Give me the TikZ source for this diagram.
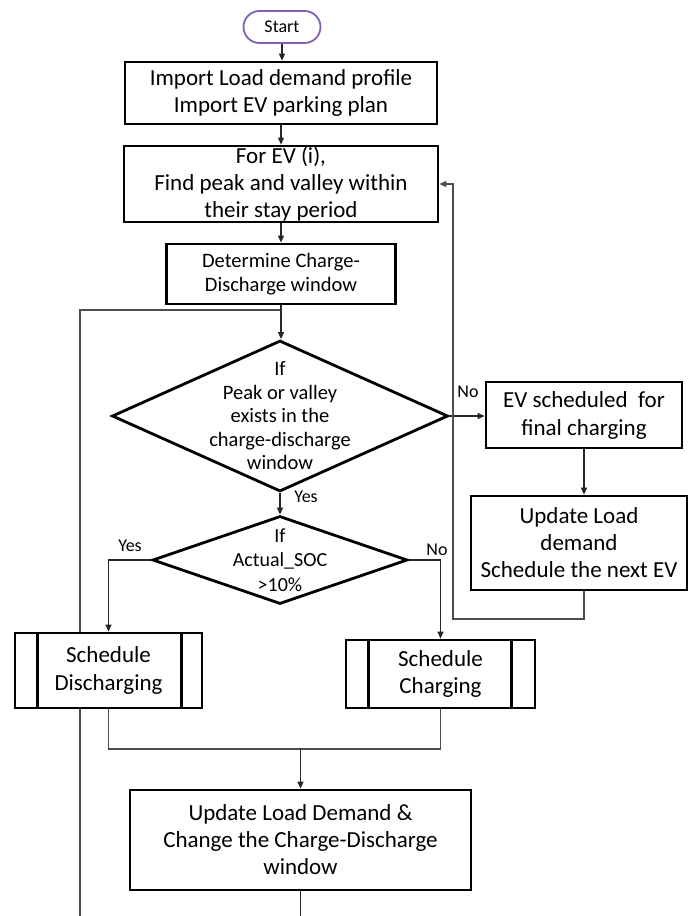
\documentclass[tikz,border=0pt]{standalone}
\usepackage{fontspec}
\setmainfont{Carlito}
\usetikzlibrary{arrows.meta,shapes.geometric,calc}
\definecolor{startpurple}{RGB}{128,96,180}
\pgfdeclarelayer{background}
\pgfsetlayers{background,main}
\begin{document}
\begin{tikzpicture}[x=1pt,y=-1pt,
  box/.style={draw,line width=2.8pt,rectangle,inner sep=0pt,align=center,fill=white,
    font=\fontsize{23}{27}\selectfont},
  dia/.style={draw,line width=2.8pt,diamond,inner sep=0pt,fill=white},
  dtext/.style={align=center,inner sep=0pt,font=\fontsize{20.5}{23.5}\selectfont},
  lbl/.style={inner sep=0pt,font=\fontsize{18}{20}\selectfont},
  conn/.style={draw=black!85,line width=1.3pt},
  arr/.style={conn,-{Triangle[length=7pt,width=6pt]}},
  loopl/.style={draw=black!70,line width=1.2pt}
]
\useasboundingbox (0,0) rectangle (689,916);

% nodes
\node[draw=startpurple,line width=1.8pt,rounded corners=16pt,minimum width=77pt,minimum height=32pt,inner sep=0pt,font=\fontsize{18}{20}\selectfont] (start) at (282,27) {Start};
\node[box,minimum width=312pt,minimum height=62pt] (b1) at (281,93) {Import Load demand profile\\Import EV parking plan};
\node[box,minimum width=314pt,minimum height=76pt] (b2) at (281,184) {For EV (i),\\Find peak and valley within\\their stay period};
\node[box,minimum width=229pt,minimum height=60pt,font=\fontsize{20.5}{24}\selectfont] (b3) at (281,274) {Determine Charge-\\Discharge window};
\node[dia,minimum width=336pt,minimum height=151pt] (d1) at (280,416) {};
\node[dtext] (d1t) at (d1.center) {If\\Peak or valley\\exists in the\\charge-discharge\\window};
\node[dia,minimum width=255pt,minimum height=88pt] (d2) at (280,560) {};
\node[dtext,font=\fontsize{20}{24.5}\selectfont] (d2t) at (d2.center) {If\\Actual\_SOC\\>10\%};
\node[box,minimum width=196pt,minimum height=66pt,font=\fontsize{23}{28}\selectfont] (b4) at (584,415) {EV scheduled\ \ for\\final charging};
\node[box,minimum width=216pt,minimum height=94pt] (b5) at (579,543) {Update Load\\demand\\Schedule the next EV};
\node[box,minimum width=187pt,minimum height=75pt,font=\fontsize{23}{28}\selectfont] (sd) at (108.5,670.5) {Schedule\\Discharging};
\node[box,minimum width=189pt,minimum height=68pt,font=\fontsize{23}{27}\selectfont] (sc) at (440.5,674) {Schedule\\Charging};
\node[box,minimum width=341pt,minimum height=100pt] (b6) at (300.5,840) {Update Load Demand \&\\Change the Charge-Discharge\\window};

% inner bars of predefined-process boxes
\draw[line width=2.8pt] ([xshift=24pt]sd.north west) -- ([xshift=24pt]sd.south west);
\draw[line width=2.8pt] ([xshift=-22pt]sd.north east) -- ([xshift=-22pt]sd.south east);
\draw[line width=2.8pt] ([xshift=24pt]sc.north west) -- ([xshift=24pt]sc.south west);
\draw[line width=2.8pt] ([xshift=-25pt]sc.north east) -- ([xshift=-25pt]sc.south east);

% labels
\node[lbl] (no1) at (468,392) {No};
\node[lbl] (yes1) at (306,497) {Yes};
\node[lbl] (yes2) at (130,546) {Yes};
\node[lbl] (no2) at (437,550) {No};

% coordinates
\coordinate (lbot) at (80,916);
\coordinate (lj) at (281,310);
\coordinate (rr) at (453,619);
\coordinate (m) at (301,749);
\coordinate (bbot) at (300.5,916);

% connectors
\draw[arr] (start.south) -- (start.south|-b1.north);
\draw[arr] (b1.south) -- (b1.south|-b2.north);
\draw[arr] (b2.south) -- (b2.south|-b3.north);
\draw[arr] (b3.south) -- (b3.south|-d1.north);
\begin{pgfonlayer}{background}
\draw[loopl] (lbot) |- (lj);
\end{pgfonlayer}
\draw[arr] (d1.east) -- (d1.east-|b4.west);
\draw[arr] (d1.south) -- (d1.south|-d2.north);
\draw[arr] (d2.west) -| (sd.north);
\draw[arr] (d2.east) -| (sc.north);
\draw[arr] (b4.south) -- (b4.south|-b5.north);
\draw[loopl,-{Triangle[length=7pt,width=6pt]}] (b4.south|-b5.south) |- (rr) |- (b2.east);
\draw[loopl] (sd.south) |- (m) -| (sc.south);
\draw[arr] (b6.north|-m) -- (b6.north);
\draw[conn] (b6.south) -- (bbot);
\end{tikzpicture}
\end{document}
